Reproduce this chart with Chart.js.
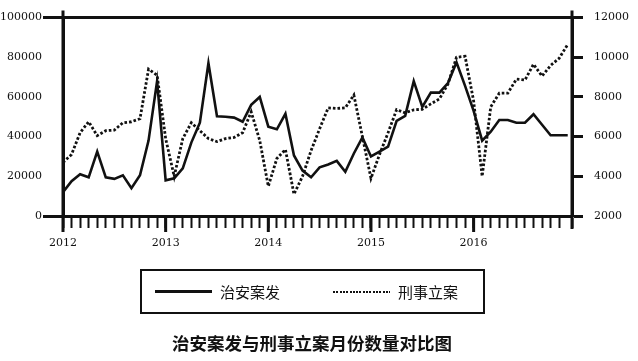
<!DOCTYPE html>
<html>
<head>
<meta charset="utf-8">
<script src="https://cdn.jsdelivr.net/npm/chart.js@4.4.0/dist/chart.umd.min.js"></script>
<style>
  body { margin: 0; background: #fff; }
  #wrap { position: relative; width: 638px; height: 361px; }
  #legend {
    position: absolute; left: 140px; top: 269px; width: 345px; height: 45px;
    border: 2px solid #111; box-sizing: border-box;
    font-family: "Noto Sans CJK SC"; font-size: 15px; color: #111;
  }
  .item { position: absolute; top: 0; height: 100%; display: flex; align-items: center; }
  .swatch { width: 57px; margin-right: 8px; }
  #title {
    position: absolute; left: 0; width: 624px; top: 330px; text-align: center;
    font-family: "Noto Sans CJK SC"; font-size: 17.5px; font-weight: bold; color: #111;
  }
</style>
</head>
<body>
<div id="wrap">
  <canvas id="chart" width="638" height="361"></canvas>
  <div id="legend"></div>
  <div id="title">治安案发与刑事立案月份数量对比图</div>
</div>
<script>
// 2012-01 .. 2016-12, one value per month
const years = ["2012", "2013", "2014", "2015", "2016"];

// 治安案发 (left axis)
const zhianAnfa = [
  12000, 17500, 21000, 19500, 32500, 19500, 18700, 20500, 14000, 20500,
  38000, 68000, 18000, 19000, 24000, 37000, 47000, 77000, 50300, 50000,
  49600, 47500, 56000, 60000, 45000, 43700, 51500, 30500, 22900, 19500,
  24500, 26000, 27800, 22300, 31500, 39600, 30000, 32500, 35000, 48000,
  50500, 68000, 55000, 62200, 62200, 67000, 77500, 65600, 53000, 38000,
  42500, 48400, 48400, 47000, 47000, 51300, 46000, 40700, 40700, 40700
];

// 刑事立案 (right axis)
const xingshiLian = [
  4700, 5100, 6200, 6750, 6050, 6300, 6330, 6700, 6750, 6900,
  9400, 9100, 5900, 4000, 5900, 6700, 6300, 5900, 5750, 5900,
  5960, 6200, 7250, 5800, 3500, 4900, 5350, 3100, 4000, 5300,
  6400, 7450, 7420, 7450, 8100, 6000, 3900, 5100, 6200, 7360,
  7200, 7350, 7380, 7650, 7900, 8650, 10000, 10050, 7800, 4000,
  7500, 8190, 8190, 8900, 8850, 9650, 9050, 9590, 9950, 10650
];

const INK = "#111";
const TICK_FONT = { family: "'DejaVu Serif'", size: 11 };
const plain = (v) => String(v);

// year ticks are longer, and both y axes poke out past the frame
const axisExtras = {
  id: "axisExtras",
  afterDraw(chart) {
    const { ctx, chartArea: a, scales: { x } } = chart;
    ctx.save();
    ctx.strokeStyle = INK;
    ctx.lineWidth = 3;
    ctx.beginPath();
    years.forEach((_, k) => {
      const px = x.getPixelForValue(k * 12);
      ctx.moveTo(px, a.bottom);
      ctx.lineTo(px, a.bottom + 16);
    });
    [a.left, a.right].forEach((px) => {
      ctx.moveTo(px, a.top - 7);
      ctx.lineTo(px, a.bottom + 13);
    });
    ctx.stroke();
    ctx.restore();
  },
};

const chart = new Chart(document.getElementById("chart"), {
  type: "line",
  data: {
    datasets: [
      {
        label: "治安案发",
        data: zhianAnfa.map((v, i) => ({ x: i, y: v })),
        yAxisID: "y",
        borderColor: INK,
        borderWidth: 2.6,
        pointRadius: 0,
        tension: 0,
      },
      {
        label: "刑事立案",
        data: xingshiLian.map((v, i) => ({ x: i, y: v })),
        yAxisID: "y1",
        borderColor: INK,
        borderWidth: 2.8,
        borderDash: [2.6, 2],
        pointRadius: 0,
        tension: 0,
      },
    ],
  },
  options: {
    responsive: false,
    animation: false,
    layout: { padding: { top: 13, bottom: 105, left: 0, right: 0 } },
    plugins: { legend: { display: false }, tooltip: { enabled: false } },
    scales: {
      x: {
        type: "linear",
        min: 0,
        max: 59.5,
        afterFit: (s) => { s.height = 40; },
        border: { color: INK, width: 3 },
        grid: { drawOnChartArea: false, tickLength: 12, tickColor: INK, tickWidth: 2 },
        ticks: {
          stepSize: 1,
          autoSkip: false,
          maxRotation: 0,
          padding: 9,
          color: INK,
          font: TICK_FONT,
          callback: (v) => (v % 12 === 0 ? years[v / 12] : ""),
        },
      },
      y: {
        position: "left",
        min: 0,
        max: 100000,
        afterFit: (s) => { s.width = 63; },
        border: { color: INK, width: 3 },
        grid: {
          color: (c) => (c.tick && c.tick.value === 100000 ? INK : "transparent"),
          lineWidth: 3,
          tickLength: 20,
          tickWidth: 3,
          tickColor: (c) => (c.tick && (c.tick.value === 0 || c.tick.value === 100000) ? INK : "transparent"),
        },
        ticks: { stepSize: 20000, padding: 1, color: INK, font: TICK_FONT, callback: plain },
      },
      y1: {
        position: "right",
        min: 2000,
        max: 12000,
        afterFit: (s) => { s.width = 66; },
        border: { color: INK, width: 3 },
        grid: { drawOnChartArea: false, tickLength: 11, tickColor: INK, tickWidth: 3 },
        ticks: { stepSize: 2000, padding: 11, color: INK, font: TICK_FONT, callback: plain },
      },
    },
  },
  plugins: [axisExtras],
});

// boxed legend under the plot, built from the datasets
const legend = document.getElementById("legend");
const itemLeft = [13, 191];
chart.data.datasets.forEach((ds, i) => {
  const item = document.createElement("div");
  item.className = "item";
  item.style.left = itemLeft[i] + "px";
  const sw = document.createElement("div");
  sw.className = "swatch";
  if (ds.borderDash) {
    sw.style.height = "2px";
    sw.style.background = "repeating-linear-gradient(to right, #111 0 2px, transparent 2px 3.3px)";
  } else {
    sw.style.height = "3px";
    sw.style.background = INK;
  }
  const txt = document.createElement("span");
  txt.textContent = ds.label;
  item.appendChild(sw);
  item.appendChild(txt);
  legend.appendChild(item);
});
</script>
</body>
</html>
